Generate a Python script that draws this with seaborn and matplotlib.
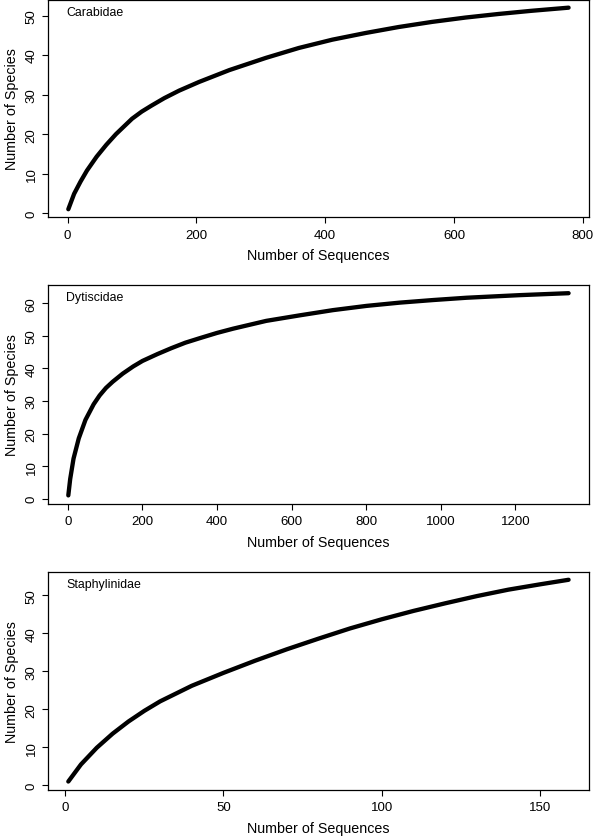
import numpy as np
import pandas as pd
import matplotlib
matplotlib.use("Agg")
import matplotlib.pyplot as plt
import seaborn as sns

# ---- data ----
families = ["Carabidae", "Dytiscidae", "Staphylinidae"]

carabidae_seqs = [1, 10, 20, 30, 45, 60, 75, 100, 115, 130, 150, 173, 204, 251, 308,
                  359, 411, 463, 514, 566, 618, 669, 720, 778]
carabidae_species = [1, 4.9, 8.0, 10.8, 14.3, 17.3, 20.0, 23.9, 25.7, 27.2, 29.1, 31.0,
                     33.2, 36.2, 39.3, 41.8, 43.9, 45.6, 47.1, 48.4, 49.5, 50.4, 51.2, 52.0]

dytiscidae_seqs = [1, 6, 15, 29, 47, 69, 85, 102, 120, 147, 175, 200, 240, 277, 315,
                   354, 400, 443, 532, 622, 711, 801, 890, 980, 1069, 1158, 1212, 1343]
dytiscidae_species = [1, 6.0, 12.3, 18.5, 24.2, 29.0, 31.7, 34.0, 35.9, 38.4, 40.6,
                      42.3, 44.4, 46.2, 47.9, 49.3, 50.9, 52.2, 54.6, 56.3, 57.9, 59.2,
                      60.2, 61.0, 61.7, 62.2, 62.5, 63.1]

staphylinidae_seqs = [1, 5, 10, 15, 20, 25, 30, 40, 50, 60, 70, 80, 90, 100, 110,
                      120, 130, 140, 150, 159]
staphylinidae_species = [1, 5.5, 9.9, 13.6, 16.8, 19.6, 22.1, 26.2, 29.6, 32.8, 35.8,
                         38.6, 41.3, 43.7, 45.9, 47.9, 49.8, 51.5, 52.9, 54.1]

x_ticks = [[0, 200, 400, 600, 800],
           [0, 200, 400, 600, 800, 1000, 1200],
           [0, 50, 100, 150]]
y_ticks = [[0, 10, 20, 30, 40, 50],
           [0, 10, 20, 30, 40, 50, 60],
           [0, 10, 20, 30, 40, 50]]

xlabel = "Number of Sequences"
ylabel = "Number of Species"

series = [(carabidae_seqs, carabidae_species),
          (dytiscidae_seqs, dytiscidae_species),
          (staphylinidae_seqs, staphylinidae_species)]

# ---- style ----
sns.set_style("white")
plt.rcParams['font.family'] = ['Liberation Sans', 'DejaVu Sans']

W, H = 600, 837
fig = plt.figure(figsize=(W / 100, H / 100), dpi=100)

left_px, right_px = 48.3, 588.6
panels_px = [(0.6, 218.3), (286.1, 504.5), (572.7, 790.6)]

for i, (fam, (xs, ys)) in enumerate(zip(families, series)):
    top, bot = panels_px[i]
    rect = [left_px / W, 1 - bot / H, (right_px - left_px) / W, (bot - top) / H]
    ax = fig.add_axes(rect)
    df = pd.DataFrame({"seqs": xs, "species": ys})
    sns.lineplot(data=df, x="seqs", y="species", ax=ax, color="black",
                 linewidth=3.1, solid_capstyle="round", solid_joinstyle="round")
    # R-style 4% axis expansion
    xr = max(xs) - min(xs)
    yr = max(ys) - min(ys)
    ax.set_xlim(min(xs) - 0.04 * xr, max(xs) + 0.04 * xr)
    ax.set_ylim(min(ys) - 0.04 * yr, max(ys) + 0.04 * yr)
    ax.set_xticks(x_ticks[i])
    ax.set_yticks(y_ticks[i])
    ax.set_xticklabels([str(t) for t in x_ticks[i]])
    ax.set_yticklabels([str(t) for t in y_ticks[i]])
    for s in ax.spines.values():
        s.set_visible(True)
        s.set_color("black")
        s.set_linewidth(0.9)
    ax.tick_params(axis="both", direction="out", length=4.2, width=0.8,
                   color="black", labelsize=9.5, labelcolor="black",
                   bottom=True, left=True)
    ax.tick_params(axis="x", pad=4.0)
    ax.tick_params(axis="y", pad=3.5)
    for lab in ax.get_yticklabels():
        lab.set_rotation(90)
        lab.set_va("center")
        lab.set_ha("right")
    ax.set_xlabel(xlabel, fontsize=10.3, color="black", labelpad=5.5)
    ax.set_ylabel(ylabel, fontsize=10.3, color="black", labelpad=5)
    ax.text(0.033, 0.945, fam, transform=ax.transAxes, fontsize=8.9,
            ha="left", va="center", color="black")
    ax.grid(False)

fig.savefig("out.png", dpi=100, facecolor="white")
